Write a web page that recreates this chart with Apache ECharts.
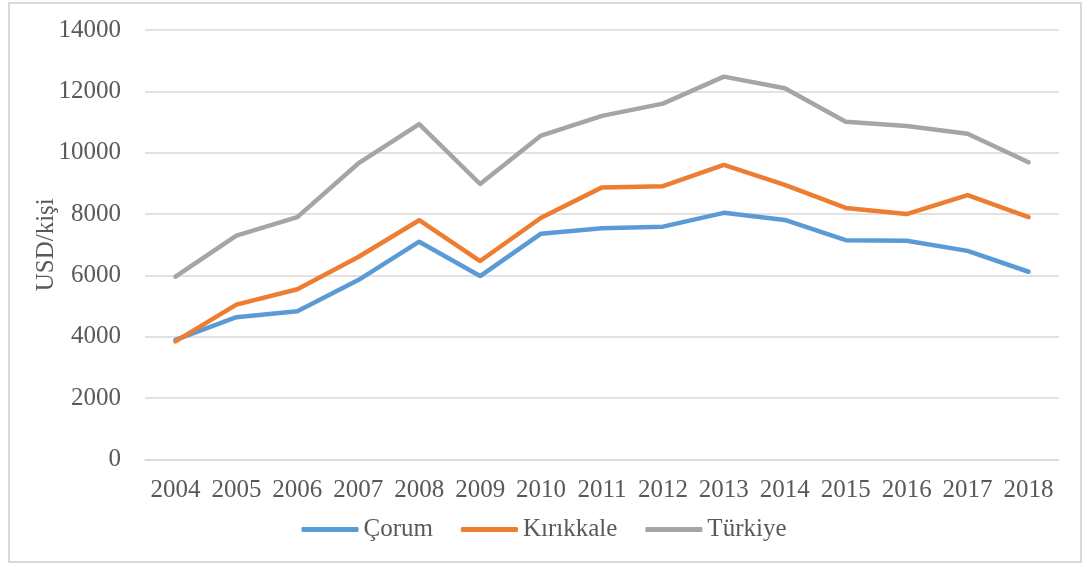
<!DOCTYPE html>
<html>
<head>
<meta charset="utf-8">
<script src="https://cdn.jsdelivr.net/npm/echarts@6/dist/echarts.min.js"></script>
<style>
  html, body { margin: 0; padding: 0; background: #fff; }
  #frame {
    position: absolute; left: 8px; top: 2px; width: 1074px; height: 561px;
    border: 2px solid #d9d9d9; box-sizing: border-box;
  }
  #chart { position: absolute; left: 0; top: 0; width: 1088px; height: 567px; }
</style>
</head>
<body>
<div id="frame"></div>
<div id="chart"></div>
<script>
// x axis years
const years = ['2004', '2005', '2006', '2007', '2008', '2009', '2010', '2011',
  '2012', '2013', '2014', '2015', '2016', '2017', '2018']
// USD per person
const corum = [3900, 4640, 4830, 5850, 7100, 5980, 7360, 7540, 7590, 8040, 7810, 7150, 7130, 6800, 6120]
const kirikkale = [3850, 5050, 5550, 6600, 7800, 6470, 7880, 8870, 8910, 9600, 8950, 8200, 8000, 8620, 7900]
const turkiye = [5960, 7300, 7900, 9650, 10930, 8980, 10560, 11200, 11600, 12480, 12100, 11010, 10870, 10620, 9690]

const font = 'Liberation Serif'
const textColor = '#595959'

let myChart = echarts.init(document.getElementById('chart'))

function line(name, data, color) {
  return {
    name: name,
    type: 'line',
    data: data,
    symbol: 'none',
    lineStyle: { width: 4.5, color: color, cap: 'round', join: 'round' },
    itemStyle: { color: color }
  }
}

let options = {
  animation: false,
  textStyle: { fontFamily: font, color: textColor },
  grid: { left: 145, right: 29, top: 30, bottom: 107.5, containLabel: false },
  legend: {
    bottom: 20,
    left: 'center',
    icon: 'roundRect',
    itemWidth: 57,
    itemHeight: 5,
    itemGap: 28,
    textStyle: { fontFamily: 'Liberation Serif', fontSize: 25, color: textColor },
    data: ['Çorum', 'Kırıkkale', 'Türkiye']
  },
  xAxis: {
    type: 'category',
    data: years,
    boundaryGap: true,
    axisLine: { show: true, lineStyle: { color: '#d9d9d9', width: 1.5 } },
    axisTick: { show: false },
    axisLabel: { fontFamily: font, fontSize: 25, color: textColor, margin: 18, interval: 0 }
  },
  yAxis: {
    type: 'value',
    min: 0,
    max: 14000,
    interval: 2000,
    name: 'USD/kişi',
    nameLocation: 'middle',
    nameGap: 86,
    nameMoveOverlap: false,
    nameTextStyle: { fontFamily: font, fontSize: 25, color: textColor },
    axisLine: { show: false },
    axisTick: { show: false },
    axisLabel: {
      fontFamily: font, fontSize: 25, color: textColor, margin: 24,
      formatter: function (v) { return String(v) }
    },
    splitLine: { lineStyle: { color: '#d9d9d9', width: 1.5 } }
  },
  series: [
    line('Çorum', corum, '#5b9bd5'),
    line('Kırıkkale', kirikkale, '#ed7d31'),
    line('Türkiye', turkiye, '#a5a5a5')
  ]
}
myChart.setOption(options)
</script>
</body>
</html>
